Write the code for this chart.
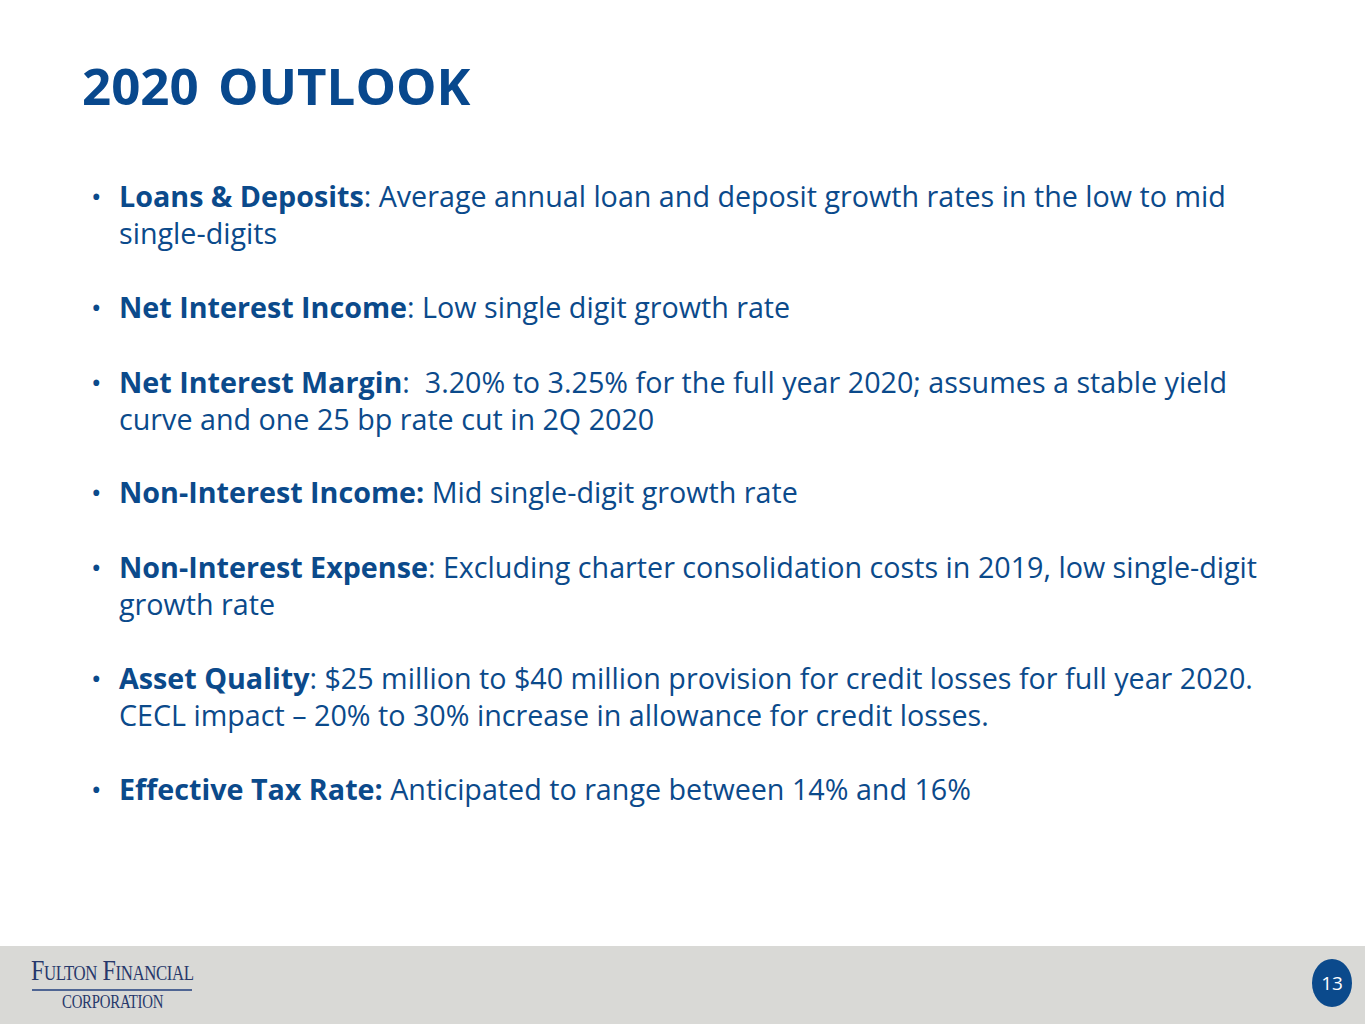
<!DOCTYPE html>
<html>
<head>
<meta charset="utf-8">
<script src="https://cdn.jsdelivr.net/npm/chart.js@4"></script>
<style>
  html, body { margin: 0; padding: 0; background: #fff; }
  body { width: 1365px; height: 1024px; position: relative; overflow: hidden; font-family: "Open Sans", "Noto Sans", sans-serif; color: #0b4a8b; }
  .title { position: absolute; left: 82px; top: 52px; font-size: 51px; font-weight: 700; color: #08488d; line-height: 66px; word-spacing: 6px; }
  .line { position: absolute; left: 119px; font-size: 28.7px; line-height: 36px; white-space: pre; }
  .line b { font-weight: 700; }
  .dot { position: absolute; left: 91px; font-size: 28px; line-height: 36px; }
  .footer { position: absolute; left: 0; top: 946px; width: 1365px; height: 78px; background: #d9d9d6; }
  .logo1 { position: absolute; left: 31px; top: 953px; font-family: "Liberation Serif", "DejaVu Serif", serif; color: #27386b; font-size: 30px; letter-spacing: -0.5px; font-variant: small-caps; transform: scaleX(0.8); transform-origin: 0 0; white-space: pre; }
  .rule { position: absolute; left: 32px; top: 989px; width: 160px; height: 2px; background: #4f6593; }
  .logo2 { position: absolute; left: 62px; top: 991px; font-family: "Liberation Serif", "DejaVu Serif", serif; color: #27386b; font-size: 19px; letter-spacing: -0.3px; transform: scaleX(0.78); transform-origin: 0 0; white-space: pre; }
  .page { position: absolute; left: 1312px; top: 959px; width: 40px; height: 48px; border-radius: 50%; background: #0b4a8c; color: #fff; font-size: 19px; line-height: 48px; text-align: center; }
</style>
</head>
<body>
<div class="title">2020 OUTLOOK</div>
<div id="body"></div>
<div class="footer"></div>
<div class="logo1">Fulton Financial</div>
<div class="rule"></div>
<div class="logo2">CORPORATION</div>
<div class="page">13</div>
<script>
// bullet heads (bold) and their text lines
const heads = ['Loans & Deposits', 'Net Interest Income', 'Net Interest Margin', 'Non-Interest Income:', 'Non-Interest Expense', 'Asset Quality', 'Effective Tax Rate:'];
const firstLines = [
  ': Average annual loan and deposit growth rates in the low to mid',
  ': Low single digit growth rate',
  ':  3.20% to 3.25% for the full year 2020; assumes a stable yield',
  ' Mid single-digit growth rate',
  ': Excluding charter consolidation costs in 2019, low single-digit',
  ': $25 million to $40 million provision for credit losses for full year 2020.',
  ' Anticipated to range between 14% and 16%'
];
const moreLines = [
  'single-digits',
  '',
  'curve and one 25 bp rate cut in 2Q 2020',
  '',
  'growth rate',
  'CECL impact \u2013 20% to 30% increase in allowance for credit losses.',
  ''
];
const lineTops = [178, 289, 364, 474, 549, 660, 771];
const lineGap = 37;

const bodyEl = document.getElementById('body');
heads.forEach((h, i) => {
  const dot = document.createElement('div');
  dot.className = 'dot';
  dot.style.top = lineTops[i] + 'px';
  dot.textContent = '\u2022';
  bodyEl.appendChild(dot);

  const l1 = document.createElement('div');
  l1.className = 'line';
  l1.style.top = lineTops[i] + 'px';
  const b = document.createElement('b');
  b.textContent = h;
  l1.appendChild(b);
  l1.appendChild(document.createTextNode(firstLines[i]));
  bodyEl.appendChild(l1);

  if (moreLines[i]) {
    const l2 = document.createElement('div');
    l2.className = 'line';
    l2.style.top = (lineTops[i] + lineGap) + 'px';
    l2.textContent = moreLines[i];
    bodyEl.appendChild(l2);
  }
});
</script>
</body>
</html>
